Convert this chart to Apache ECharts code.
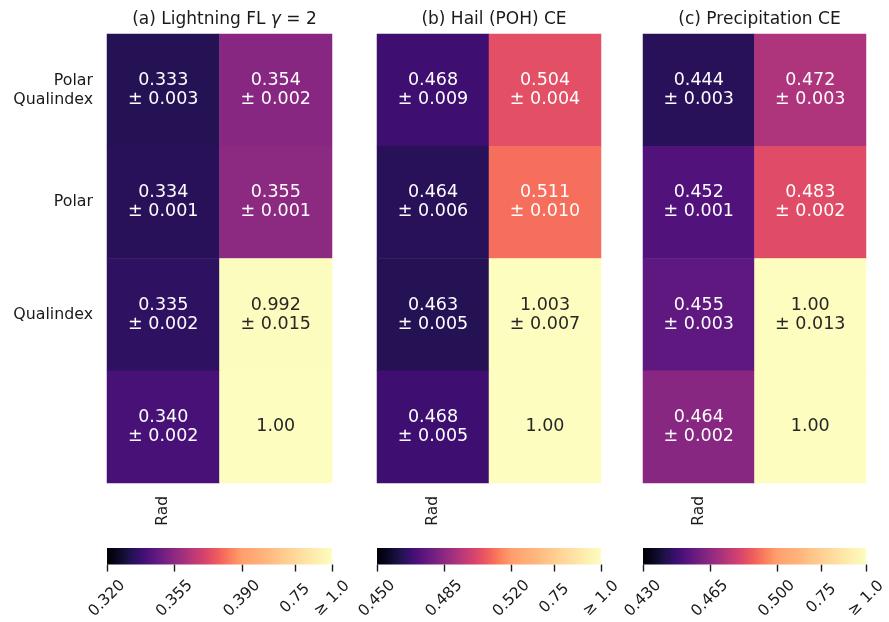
<!DOCTYPE html>
<html><head><meta charset="utf-8">
<script src="https://cdn.jsdelivr.net/npm/echarts@6/dist/echarts.min.js"></script>
<style>html,body{margin:0;padding:0;background:#fff}#c{width:889px;height:622px}</style>
</head><body><div id="c"></div>
<script>
// ---------- data ----------
const titlesPlain = ['(a) Lightning FL ', '(b) Hail (POH) CE', '(c) Precipitation CE'];
const rowLabels = ['Polar\nQualindex', 'Polar', 'Qualindex', ''];
const colLabels = ['Rad', ''];

const meanA = [['0.333', '0.354'], ['0.334', '0.355'], ['0.335', '0.992'], ['0.340', '1.00']];
const stdA  = [['0.003', '0.002'], ['0.001', '0.001'], ['0.002', '0.015'], ['0.002', '']];
const meanB = [['0.468', '0.504'], ['0.464', '0.511'], ['0.463', '1.003'], ['0.468', '1.00']];
const stdB  = [['0.009', '0.004'], ['0.006', '0.010'], ['0.005', '0.007'], ['0.005', '']];
const meanC = [['0.444', '0.472'], ['0.452', '0.483'], ['0.455', '1.00'], ['0.464', '1.00']];
const stdC  = [['0.003', '0.003'], ['0.001', '0.002'], ['0.003', '0.013'], ['0.002', '']];

const vmins = [0.320, 0.450, 0.430];
const tickValsA = [0.320, 0.355, 0.390, 0.75, 1.0];
const tickValsB = [0.450, 0.485, 0.520, 0.75, 1.0];
const tickValsC = [0.430, 0.465, 0.500, 0.75, 1.0];
const tickLabA = ['0.320', '0.355', '0.390', '0.75', '≥ 1.0'];
const tickLabB = ['0.450', '0.485', '0.520', '0.75', '≥ 1.0'];
const tickLabC = ['0.430', '0.465', '0.500', '0.75', '≥ 1.0'];

const magma = ['#000004','#07051b','#140e36','#251255','#3b0f70','#51127c','#641a80','#782281','#8c2981','#a1307e','#b73779','#ca3e72','#de4968','#ed5a5f','#f7705c','#fc8961','#fe9f6d','#feb47b','#fecf92','#fde7a9','#fcfdbf'];

// ---------- norm ----------
const SPAN = 0.07;
function barPos(v, vmin) { // position along colorbar 0..1
  const mid = vmin + SPAN;
  if (v <= mid) return Math.max(0, (v - vmin) / SPAN * 0.6);
  return Math.min(1, 0.6 + (v - mid) / (1 - mid) * 0.4);
}
function cmapFrac(t) { return t <= 0.6 ? t / 0.75 : 0.8 + (t - 0.6) * 0.5; }
function hex2rgb(h) { return [parseInt(h.slice(1,3),16), parseInt(h.slice(3,5),16), parseInt(h.slice(5,7),16)]; }
function magmaAt(f) {
  f = Math.max(0, Math.min(1, f));
  const n = magma.length - 1, x = f * n, i = Math.min(n - 1, Math.floor(x)), r = x - i;
  const a = hex2rgb(magma[i]), b = hex2rgb(magma[i + 1]);
  return 'rgb(' + a.map((c, k) => Math.round(c + (b[k] - c) * r)).join(',') + ')';
}

const FONT = 'DejaVu Sans';
const TXT = '#1a1a1a';
const lefts = [107, 377, 643];
const widths = [225, 224, 223];
const means = [meanA, meanB, meanC];
const stds = [stdA, stdB, stdC];
const tickVals = [tickValsA, tickValsB, tickValsC];
const tickLabs = [tickLabA, tickLabB, tickLabC];

const grid = [], xAxis = [], yAxis = [], series = [], title = [];
for (let p = 0; p < 3; p++) {
  grid.push({ left: lefts[p], width: widths[p], top: 34, height: 449 });
  grid.push({ left: lefts[p], width: widths[p], top: 548, height: 17 });
  xAxis.push({
    type: 'category', gridIndex: 2 * p, data: colLabels, position: 'bottom',
    axisLine: { show: false }, axisTick: { show: false }, splitLine: { show: false },
    axisLabel: { rotate: 90, margin: 13, fontSize: 15.5, fontFamily: FONT, color: TXT }
  });
  yAxis.push({
    type: 'category', gridIndex: 2 * p, data: rowLabels, inverse: true,
    axisLine: { show: false }, axisTick: { show: false }, splitLine: { show: false },
    axisLabel: { show: p === 0, margin: 14, fontSize: 15.8, lineHeight: 19, fontFamily: FONT, color: TXT, align: 'right' }
  });
  const tv = tickVals[p].map(v => barPos(v, vmins[p]));
  const labs = tickLabs[p];
  xAxis.push({
    type: 'value', gridIndex: 2 * p + 1, min: 0, max: 1,
    axisLine: { show: false }, splitLine: { show: false },
    axisTick: { show: true, customValues: tv, length: 7, lineStyle: { color: TXT, width: 1.4 } },
    axisLabel: {
      customValues: tv, rotate: 45, margin: 34, align: 'center', verticalAlign: 'middle',
      fontSize: 15.5, fontFamily: FONT, color: TXT,
      formatter: function (v) {
        let best = 0;
        tv.forEach((x, i) => { if (Math.abs(x - v) < Math.abs(tv[best] - v)) best = i; });
        return labs[best];
      }
    }
  });
  yAxis.push({
    type: 'category', gridIndex: 2 * p + 1, data: ['cb'], show: false
  });

  const data = [];
  for (let r = 0; r < 4; r++) for (let c = 0; c < 2; c++) {
    const m = means[p][r][c], s = stds[p][r][c];
    const t = barPos(parseFloat(m), vmins[p]);
    const f = cmapFrac(t);
    data.push({
      value: [c, r, f, m, s],
      label: { color: f > 0.9 ? '#262626' : '#ffffff' }
    });
  }
  series.push({
    type: 'heatmap', xAxisIndex: 2 * p, yAxisIndex: 2 * p, data: data,
    itemStyle: { borderWidth: 0 },
    emphasis: { disabled: true },
    label: {
      show: true, fontSize: 17.5, lineHeight: 19, fontFamily: FONT,
      formatter: function (prm) { const v = prm.value; return v[4] ? v[3] + '\n± ' + v[4] : v[3]; }
    }
  });
  // colorbar
  const stops = [];
  for (let i = 0; i <= 100; i++) stops.push({ offset: i / 100, color: magmaAt(cmapFrac(i / 100)) });
  series.push({
    type: 'bar', xAxisIndex: 2 * p + 1, yAxisIndex: 2 * p + 1, data: [1], barWidth: '100%',
    silent: true,
    itemStyle: { color: new echarts.graphic.LinearGradient(0, 0, 1, 0, stops) }
  });

  title.push({
    text: p === 0 ? '(a) Lightning FL {i|γ} = 2' : titlesPlain[p],
    left: lefts[p] + widths[p] / 2, top: 6, textAlign: 'center',
    textStyle: {
      fontFamily: FONT, fontSize: 17, fontWeight: 'normal', color: TXT,
      rich: { i: { fontFamily: FONT, fontStyle: 'italic', fontSize: 17, color: TXT } }
    }
  });
}

const chart = echarts.init(document.getElementById('c'), null, { renderer: 'canvas' });
chart.setOption({
  backgroundColor: '#ffffff',
  animation: false,
  title: title,
  grid: grid, xAxis: xAxis, yAxis: yAxis,
  visualMap: {
    show: false, type: 'continuous', dimension: 2, min: 0, max: 1,
    seriesIndex: [0, 2, 4],
    inRange: { color: magma }
  },
  series: series
});
</script>
</body></html>
